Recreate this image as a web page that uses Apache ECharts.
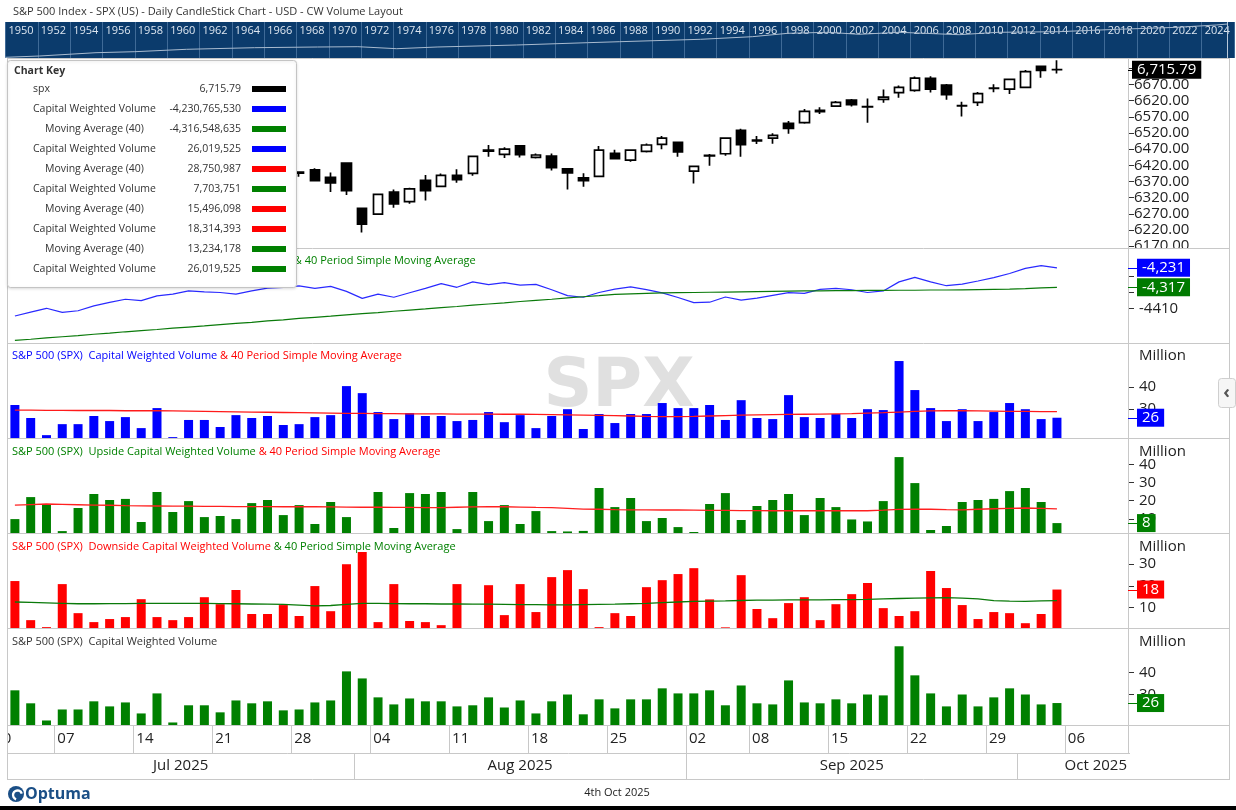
<!DOCTYPE html>
<html><head><meta charset="utf-8">
<script src="https://cdn.jsdelivr.net/npm/echarts@6/dist/echarts.min.js"></script>
<style>html,body{margin:0;padding:0;background:#fff;}#c{width:1236px;height:810px;}</style>
</head><body><div id="c"></div>
<script>
// ---------------- DATA ----------------
const dates = ['2025-07-01','2025-07-02','2025-07-03','2025-07-07','2025-07-08','2025-07-09','2025-07-10','2025-07-11','2025-07-14','2025-07-15','2025-07-16','2025-07-17','2025-07-18','2025-07-21','2025-07-22','2025-07-23','2025-07-24','2025-07-25','2025-07-28','2025-07-29','2025-07-30','2025-07-31','2025-08-01','2025-08-04','2025-08-05','2025-08-06','2025-08-07','2025-08-08','2025-08-11','2025-08-12','2025-08-13','2025-08-14','2025-08-15','2025-08-18','2025-08-19','2025-08-20','2025-08-21','2025-08-22','2025-08-25','2025-08-26','2025-08-27','2025-08-28','2025-08-29','2025-09-02','2025-09-03','2025-09-04','2025-09-05','2025-09-08','2025-09-09','2025-09-10','2025-09-11','2025-09-12','2025-09-15','2025-09-16','2025-09-17','2025-09-18','2025-09-19','2025-09-22','2025-09-23','2025-09-24','2025-09-25','2025-09-26','2025-09-29','2025-09-30','2025-10-01','2025-10-02','2025-10-03'];
const futureDates = ['2025-10-06','2025-10-07','2025-10-08','2025-10-09'];

const openP  = [6187,6199,6243,6260,6233,6239,6266,6256,6255,6295,6248,6265,6305,6305,6307,6327,6368,6370,6399,6406,6383,6427,6287,6269,6337,6308,6374,6355,6389,6395,6467,6454,6480,6445,6449,6409,6381,6386,6457,6436,6463,6485,6491,6402,6449,6456,6528,6496,6504,6550,6552,6590,6603,6622,6602,6624,6645,6652,6689,6668,6605,6615,6659,6656,6661,6726,6716];
const highP  = [6210,6227,6284,6263,6242,6269,6291,6269,6272,6302,6269,6300,6316,6336,6310,6359,6381,6390,6401,6411,6398,6427,6288,6331,6345,6351,6390,6395,6408,6448,6483,6476,6483,6457,6457,6409,6396,6480,6468,6470,6488,6511,6492,6418,6455,6504,6533,6511,6519,6557,6594,6600,6619,6625,6627,6655,6667,6695,6696,6672,6617,6647,6671,6686,6715,6727,6745];
const lowP   = [6178,6189,6241,6201,6218,6231,6258,6245,6250,6242,6202,6262,6289,6303,6282,6312,6360,6368,6385,6372,6338,6328,6212,6268,6289,6301,6311,6353,6366,6388,6447,6443,6444,6441,6404,6345,6354,6385,6440,6431,6460,6470,6447,6364,6419,6450,6447,6486,6487,6518,6549,6579,6601,6602,6552,6614,6629,6648,6645,6623,6571,6604,6646,6641,6659,6691,6704];
const closeP = [6198,6227,6279,6230,6226,6263,6280,6260,6269,6244,6264,6297,6297,6306,6310,6359,6363,6389,6396,6373,6366,6342,6238,6330,6301,6347,6342,6389,6376,6448,6464,6470,6453,6452,6413,6397,6373,6467,6441,6467,6483,6504,6462,6417,6451,6504,6484,6498,6513,6534,6587,6586,6615,6608,6601,6631,6661,6690,6656,6639,6604,6642,6658,6686,6710,6714,6715.79];

// Cumulative capital weighted volume (millions) and its 40-period SMA
const cumCWV = [-4444,-4427,-4410,-4428,-4421,-4399,-4384,-4370,-4376,-4355,-4347,-4333,-4337,-4340,-4347,-4333,-4321,-4318,-4311,-4322,-4313,-4335,-4366,-4347,-4361,-4341,-4322,-4301,-4317,-4293,-4305,-4296,-4307,-4304,-4328,-4354,-4361,-4340,-4325,-4315,-4327,-4342,-4362,-4385,-4383,-4360,-4374,-4365,-4353,-4341,-4344,-4326,-4322,-4328,-4340,-4333,-4293,-4273,-4293,-4310,-4303,-4289,-4274,-4256,-4233,-4221,-4231];
const cumCWVMA = [-4552,-4547,-4541,-4536,-4531,-4525,-4520,-4514,-4509,-4504,-4498,-4493,-4488,-4482,-4477,-4472,-4466,-4461,-4455,-4450,-4445,-4439,-4434,-4429,-4423,-4418,-4413,-4407,-4402,-4396,-4391,-4386,-4380,-4375,-4370,-4364,-4359,-4354,-4348,-4346,-4344,-4342,-4341,-4340,-4339,-4338,-4337,-4336,-4335,-4334,-4333,-4333,-4332,-4332,-4331,-4331,-4330,-4330,-4329,-4329,-4328,-4327,-4326,-4325,-4323,-4320,-4317];

// Capital weighted volume (millions) and 40-period SMA
const totalVol = [31.8,25.9,18.1,23.1,23.1,26.8,24.5,26.3,21.3,30.4,17.2,25.0,25.0,21.8,27.2,25.9,26.8,22.7,23.1,26.3,27.2,40.4,37.2,28.6,25.4,28.1,26.8,26.8,24.5,25.0,28.6,24.0,27.2,21.3,26.8,29.9,20.9,27.7,23.6,27.7,27.7,32.7,30.4,30.4,31.8,25.0,34.0,25.9,25.4,36.3,26.3,25.9,27.7,25.9,29.9,29.5,51.8,38.6,30.4,24.5,29.9,24.5,28.6,32.7,29.9,25.4,26.02];
const totalVolMA = [29.5,29.5,29.4,29.4,29.3,29.3,29.3,29.2,29.2,29.2,29.1,29.0,28.9,28.8,28.7,28.6,28.5,28.4,28.3,28.2,28.1,28.0,28.0,27.9,27.9,27.8,27.8,27.8,27.7,27.7,27.7,27.6,27.6,27.5,27.4,27.3,27.2,27.1,27.0,26.8,26.6,26.5,26.5,26.6,26.8,27.0,27.2,27.3,27.4,27.5,27.6,27.7,27.8,27.9,28.1,28.3,28.6,28.9,29.1,29.2,29.2,29.1,29.0,28.9,28.9,28.8,28.75];

// Upside capital weighted volume (millions) and 40-period SMA
const upVol = [9.9,22.0,18.2,3.3,16.0,23.7,20.4,21.0,8.3,24.8,13.8,19.8,11.0,11.6,9.9,18.7,20.4,12.1,17.6,7.2,19.3,11.0,2.2,24.8,5.0,24.2,23.7,24.8,4.4,24.8,8.8,17.6,7.2,14.3,3.3,3.1,3.4,27.0,16.5,21.5,8.8,10.5,5.5,2.8,18.2,24.2,9.4,17.1,20.4,23.7,12.1,21.5,16.5,9.7,8.6,19.8,44.0,29.7,3.9,6.1,19.3,20.4,21.0,25.3,27.0,19.3,7.7];
const upVolMA = [17.6,17.9,18.2,18.0,17.8,17.6,17.5,17.3,17.2,17.1,17.0,17.0,16.9,16.9,16.8,16.8,16.8,16.7,16.7,16.7,16.6,16.5,16.4,16.4,16.3,16.3,16.2,16.2,16.4,16.6,16.7,16.7,16.5,16.3,16.2,15.8,15.4,15.3,15.1,15.0,15.0,14.9,14.9,14.8,14.7,14.7,14.6,14.6,14.5,14.5,14.5,14.5,14.5,14.5,14.5,14.8,15.2,15.4,15.3,15.1,15.0,15.3,15.6,15.8,16.0,15.8,15.5];

// Downside capital weighted volume (millions) and 40-period SMA
const downVol = [22.2,4.3,1.1,20.8,7.5,3.4,4.8,5.7,13.9,5.7,4.3,5.7,14.8,11.6,18.1,7.1,7.1,11.2,6.2,19.9,8.4,29.9,35.5,3.4,20.8,3.9,3.4,2.0,20.8,0.7,20.3,6.6,20.8,8.0,24.0,27.2,18.5,1.1,7.5,6.2,19.4,22.6,25.4,28.1,13.8,1.0,24.9,9.4,5.2,12.1,14.8,4.3,11.6,16.2,21.3,9.8,6.2,8.4,26.8,19.0,11.2,4.8,8.0,7.5,2.9,7.1,18.31];
const downVolMA = [12.6,12.4,12.2,12.0,11.8,11.8,11.9,11.9,12.0,12.0,12.0,12.0,12.0,11.9,11.8,11.7,11.6,11.5,11.2,10.8,11.0,11.5,12.0,12.0,11.9,11.8,11.8,11.7,11.7,11.6,11.6,11.5,11.4,11.4,11.3,11.3,11.4,11.5,11.6,11.8,12.0,12.3,12.6,12.9,13.0,13.1,13.3,13.5,13.5,13.6,13.6,13.6,13.7,13.7,13.8,14.0,14.2,14.4,14.5,14.6,14.4,14.0,13.2,13.0,12.9,13.1,13.23];

// long-history navigator (year, relative level)
const navYears = [1950.0,1952.1,1955.6,1958.0,1961.2,1965.4,1969.3,1971.8,1974.2,1976.7,1981.6,1986.0,1988.0,1993.0,1996.2,1998.4,2000.9,2002.8,2005.3,2009.0,2011.4,2015.1,2018.8,2022.5,2024.9,2025.6];
const navLevel = [0.7,2.0,5.3,6.3,8.7,10.3,11.0,11.3,9.3,11.0,13.0,15.3,16.3,18.7,21.3,24.7,25.7,23.7,25.7,23.3,25.7,26.3,28.7,30.7,33.0,34.0];

// axis tick values
const priceTicks = [6170,6220,6270,6320,6370,6420,6470,6520,6570,6620,6670,6720];
const cumTicks = [-4410,-4340,-4270];
const cumLabels = [-4410];
const volTicks = [30,40];
const upTicks = [10,20,30,40];
const downTicks = [10,20,30];

// chart key
const keyNames = ['spx','Capital Weighted Volume','Moving Average (40)','Capital Weighted Volume','Moving Average (40)','Capital Weighted Volume','Moving Average (40)','Capital Weighted Volume','Moving Average (40)','Capital Weighted Volume'];
const keyValues = [6715.79,-4230765530,-4316548635,26019525,28750987,7703751,15496098,18314393,13234178,26019525];
const keyColors = ['#000000','#0000ff','#008000','#0000ff','#ff0000','#008000','#ff0000','#ff0000','#008000','#008000'];
const monthNames = ['Jan','Feb','Mar','Apr','May','Jun','Jul','Aug','Sep','Oct','Nov','Dec'];

// ---------------- CHART ----------------
const FONT = '"Open Sans", "DejaVu Sans", sans-serif';
const cats = dates.concat(futureDates);
const GL = 7, GR = 108;
const panels = [
  {top:58, height:190}, {top:248, height:95}, {top:343, height:95},
  {top:438, height:95}, {top:533, height:95}, {top:628, height:97}
];
const grids = panels.map(p => ({left:GL, right:GR, top:p.top, height:p.height, show:false}));
grids.push({left:5.5, right:2, top:22, height:36, show:true, backgroundColor:'#0b3b6c', borderWidth:0});

const xAxes = panels.map((p,k) => ({type:'category', gridIndex:k, data:cats, boundaryGap:true,
  axisLine:{show:false}, axisTick:{show:false}, axisLabel:{show:false}, splitLine:{show:false}}));
xAxes.push({type:'value', gridIndex:6, min:1950, max:2026, interval:2, position:'top',
  axisLine:{show:false}, axisTick:{show:false},
  splitLine:{show:true, lineStyle:{color:'#3f6a97', width:1}},
  axisLabel:{inside:true, align:'left', verticalAlign:'top', padding:[0,0,0,3], margin:3, color:'#dde6f0',
    fontSize:11, fontFamily:FONT, showMaxLabel:false, formatter: v => String(v)}});

function yAx(k, min, max, ticks, labels, fmt, margin){
  return {type:'value', gridIndex:k, position:'right', min, max,
    axisLine:{show:false}, splitLine:{show:false},
    axisTick:{show:true, length:6, lineStyle:{color:'#333', width:1}, customValues:ticks},
    axisLabel:{show:true, customValues:labels, color:'#222', fontSize:15, fontFamily:FONT, margin, formatter:fmt}};
}
const yAxes = [
  yAx(0, 6164.4, 6752.1, priceTicks, priceTicks, v => v.toFixed(2), 6),
  yAx(1, -4563.7, -4143, cumTicks, cumLabels, v => String(v), 11),
  yAx(2, 16.8, 60, volTicks, volTicks, v => String(v), 11),
  yAx(3, 2.25, 54.5, upTicks, upTicks, v => String(v), 11),
  yAx(4, 0.7, 44.2, downTicks, downTicks, v => String(v), 11),
  yAx(5, 16.05, 60.1, volTicks, volTicks, v => String(v), 11),
  {type:'value', gridIndex:6, min:0, max:36, show:false}
];

const candleData = dates.map((d,i) => [openP[i], closeP[i], lowP[i], highP[i]]);
const lineS = (k, data, color, w) => ({type:'line', xAxisIndex:k, yAxisIndex:k, data, symbol:'none',
  lineStyle:{color, width:w||1.2}, itemStyle:{color}, z:3});
const barS = (k, data, color) => ({type:'bar', xAxisIndex:k, yAxisIndex:k, data, barWidth:9, itemStyle:{color}, clip:true, z:2});

const series = [
  {type:'candlestick', xAxisIndex:0, yAxisIndex:0, data:candleData, barWidth:10,
    itemStyle:{color:'#ffffff', color0:'#000000', borderColor:'#000000', borderColor0:'#000000', borderColorDoji:'#000000', borderWidth:1.7}},
  lineS(1, cumCWV, '#2a2aff', 1.2),
  lineS(1, cumCWVMA, '#0a7a0a', 1.2),
  barS(2, totalVol, '#0000ff'),
  lineS(2, totalVolMA, '#ff1a1a', 1.3),
  barS(3, upVol, '#008000'),
  lineS(3, upVolMA, '#ff2020', 1.3),
  barS(4, downVol, '#ff0000'),
  lineS(4, downVolMA, '#0a7a0a', 1.3),
  barS(5, totalVol, '#008000'),
  {type:'line', xAxisIndex:6, yAxisIndex:6, data:navYears.map((y,i)=>[y, navLevel[i]]), symbol:'none',
    lineStyle:{color:'#a9bbcf', width:1}, z:3}
];

const chart = echarts.init(document.getElementById('c'), null, {renderer:'canvas'});
chart.setOption({animation:false, backgroundColor:'#ffffff', grid:grids, xAxis:xAxes, yAxis:yAxes, series});

// ---------------- OVERLAY (positions from the chart's own scales) ----------------
const x0 = chart.convertToPixel({xAxisIndex:5}, 0);
const band = chart.convertToPixel({xAxisIndex:5}, 1) - x0;
const bnd = i => x0 + (i - 0.5) * band;
const plotR = 1236 - GR, frameR = 1229;
const G = [];
function T(x, y, text, o) {
  o = o || {};
  const st = {text, fill:o.color||'#222', font:(o.bold?'bold ':'') + (o.size||11) + 'px ' + (o.family||FONT),
    align:o.align||'left', textAlign:o.align||'left', verticalAlign:o.va||'middle', textVerticalAlign:o.va||'middle'};
  if (o.rich) st.rich = o.rich;
  if (o.bg) { st.backgroundColor = o.bg; st.padding = o.pad || [1,5,0,5]; }
  return {type:'text', x, y, z:o.z==null?50:o.z, silent:true, style:st};
}
function Ln(x1,y1,x2,y2,c,w,z){ return {type:'line', z:z==null?60:z, silent:true, shape:{x1,y1,x2,y2}, style:{stroke:c||'#c8c8c8', lineWidth:w||1}}; }
function Rc(x,y,w,h,fill,stroke,z,r){ return {type:'rect', z:z==null?50:z, silent:true, shape:{x,y,width:w,height:h,r:r||0}, style:{fill, stroke:stroke||null, lineWidth:1}}; }

// title
G.push(T(13, 12, 'S&P 500 Index - SPX (US) - Daily CandleStick Chart - USD - CW Volume Layout', {size:11, color:'#333'}));

// watermark
G.push({type:'text', x:619, y:388, z:0, silent:true, style:{text:'SPX', fill:'#e0e0e0', font:'bold 68px "DejaVu Sans", sans-serif', align:'center', textAlign:'center', verticalAlign:'middle', textVerticalAlign:'middle'}});

// mask for overflowing bottom price label
G.push(Rc(plotR+1, 248.5, 99, 9, '#ffffff', null, 55));

// frame & separators
[248,343,438,533,628,725].forEach(y => G.push(Ln(GL, y+0.5, frameR, y+0.5)));
G.push(Ln(GL, 58.5, frameR, 58.5));
G.push(Ln(GL, 753.5, plotR+2, 753.5));
G.push(Ln(GL, 779.5, frameR, 779.5));
G.push(Ln(GL+0.5, 58, GL+0.5, 780));
G.push(Ln(plotR+0.5, 58, plotR+0.5, 754));
G.push(Ln(frameR+0.5, 58, frameR+0.5, 780));

// navigator window marker
G.push(Ln(1227.5, 22, 1227.5, 58, '#b8c8da', 1, 10));

// panel titles
const rs = c => ({fill:c, fontSize:11, fontFamily:FONT});
const rich = {b:rs('#0000ff'), r:rs('#ff0000'), g:rs('#008000'), k:rs('#333333')};
G.push(T(25, 261, '{b|S&P 500 (SPX)  Cumulative Capital Weighted Volume}{g| & 40 Period Simple Moving Average}', {rich}));
G.push(T(12, 356, '{b|S&P 500 (SPX)  Capital Weighted Volume}{r| & 40 Period Simple Moving Average}', {rich}));
G.push(T(12, 452, '{g|S&P 500 (SPX)  Upside Capital Weighted Volume}{r| & 40 Period Simple Moving Average}', {rich}));
G.push(T(12, 547, '{r|S&P 500 (SPX)  Downside Capital Weighted Volume}{g| & 40 Period Simple Moving Average}', {rich}));
G.push(T(12, 642, '{k|S&P 500 (SPX)  Capital Weighted Volume}', {rich}));
[356, 452, 547, 642].forEach(y => G.push(T(plotR+11, y, 'Million', {size:15})));

// x axis: week starts and months
cats.forEach((d,i) => {
  const dt = new Date(d + 'T00:00:00Z'), dow = dt.getUTCDay();
  let idx = null, day = null;
  if (i === 0) { idx = i - (dow - 1); day = new Date(dt.getTime() - (dow-1)*86400000).getUTCDate(); }
  else { const pv = new Date(cats[i-1] + 'T00:00:00Z'); if (dow < pv.getUTCDay() || (dt - pv) > 3*86400000) { idx = i; day = dt.getUTCDate(); } }
  if (idx !== null) {
    const bx = bnd(idx);
    if (bx > GL) G.push(Ln(Math.round(bx)+0.5, 725, Math.round(bx)+0.5, 753));
    G.push(T(bx + 3, 739, String(day).padStart(2,'0'), {size:15, z:40}));
  }
});
G.push(Rc(0, 726, GL, 27, '#ffffff', null, 45));
const months = [];
cats.forEach((d,i) => { const m = d.slice(0,7); if (!months.length || months[months.length-1].m !== m) months.push({m, first:i, last:i}); else months[months.length-1].last = i; });
months.forEach((mo, j) => {
  const left = Math.max(bnd(mo.first), GL), right = Math.min(bnd(mo.last + 1), plotR);
  if (j > 0) G.push(Ln(Math.round(left)+0.5, 753, Math.round(left)+0.5, 779));
  const label = monthNames[+mo.m.slice(5,7) - 1] + ' ' + mo.m.slice(0,4);
  if (j === months.length - 1) G.push(T(plotR - 1, 766, label, {size:15, align:'right'}));
  else G.push(T((left + right) / 2, 766, label, {size:15, align:'center'}));
});

// last-value boxes
const last = a => a[a.length - 1];
const fmtInt = v => Math.round(v).toLocaleString('en-US');
const boxes = [
  {ax:0, v:last(closeP), t:last(closeP).toLocaleString('en-US',{minimumFractionDigits:2, maximumFractionDigits:2}), c:'#000000', x:plotR+4},
  {ax:1, v:last(cumCWV), t:fmtInt(last(cumCWV)), c:'#0000ff', x:plotR+9},
  {ax:1, v:last(cumCWVMA), t:fmtInt(last(cumCWVMA)), c:'#007a00', x:plotR+9},
  {ax:2, v:last(totalVol), t:fmtInt(last(totalVol)), c:'#0000ff', x:plotR+9},
  {ax:3, v:last(upVol), t:fmtInt(last(upVol)), c:'#008000', x:plotR+9},
  {ax:4, v:last(downVol), t:fmtInt(last(downVol)), c:'#ff0000', x:plotR+9},
  {ax:5, v:last(totalVol), t:fmtInt(last(totalVol)), c:'#008000', x:plotR+9}
];
boxes.forEach(b => {
  const y = chart.convertToPixel({yAxisIndex:b.ax}, b.v);
  G.push(Ln(plotR, Math.round(y)+0.5, b.x, Math.round(y)+0.5, b.c, 1, 90));
  G.push(T(b.x, y, b.t, {size:15, color:'#ffffff', bg:b.c, pad:[2,5,1,5], z:95}));
});

// chart key
G.push({type:'rect', z:100, silent:true, shape:{x:7.5, y:60.5, width:289, height:227, r:3},
  style:{fill:'#ffffff', stroke:'#c4c4c4', lineWidth:1, shadowBlur:3, shadowColor:'rgba(0,0,0,0.12)', shadowOffsetY:1}});
G.push(T(14, 71, 'Chart Key', {bold:true, size:10.5, color:'#333', z:101}));
keyNames.forEach((n, i) => {
  const y = 89 + i * 20;
  const indent = n.indexOf('Moving') === 0 ? 45 : 33;
  const v = keyValues[i];
  const vt = Number.isInteger(v) ? v.toLocaleString('en-US') : v.toLocaleString('en-US',{minimumFractionDigits:2});
  G.push(T(indent, y, n, {size:10.5, color:'#333', z:101}));
  G.push(T(241, y, vt, {size:10.5, color:'#333', align:'right', z:101}));
  G.push(Rc(252, y - 3, 34, 6, keyColors[i], null, 101));
});

// side button
G.push(Rc(1218.5, 378.5, 17, 29, '#f6f6f6', '#cfcfcf', 70, 3));
G.push(T(1226.5, 393, '‹', {size:18, bold:true, color:'#555', align:'center', z:71}));

// footer
G.push({type:'circle', z:50, silent:true, shape:{cx:16, cy:794, r:8}, style:{fill:'#1b4f86'}});
G.push({type:'arc', z:51, silent:true, shape:{cx:17.5, cy:795, r:4.5, startAngle:Math.PI*0.6, endAngle:Math.PI*1.9}, style:{stroke:'#ffffff', lineWidth:2.4, fill:null}});
G.push(T(25, 794, 'Optuma', {size:16, bold:true, color:'#1b4f86', family:'"Open Sans", sans-serif'}));
G.push(T(617, 793, '4th Oct 2025', {size:11, color:'#222', align:'center'}));
G.push(Rc(0, 806, 1236, 4, '#000000', null, 50));

chart.setOption({graphic:{elements:G}});
</script></body></html>
